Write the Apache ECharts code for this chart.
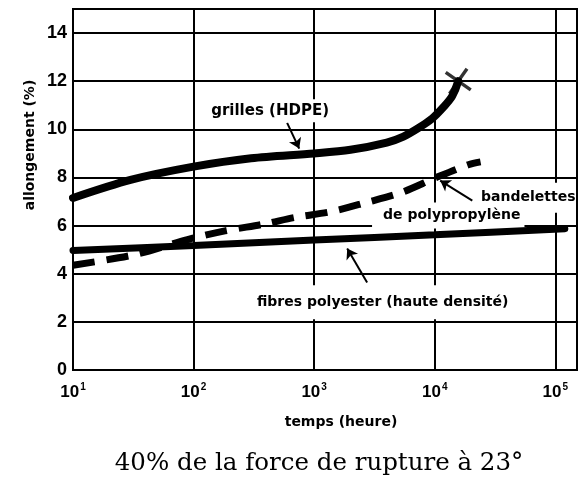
<!DOCTYPE html>
<html>
<head>
<meta charset="utf-8">
<script src="https://cdn.jsdelivr.net/npm/echarts@6/dist/echarts.min.js"></script>
<style>
  html, body { margin: 0; padding: 0; background: #fff; }
  #chart { width: 580px; height: 481px; }
</style>
</head>
<body>
<div id="chart"></div>
<script>
// Allongement en fluage selon le temps (échelle logarithmique), 40 % de la force de rupture à 23°

// Graduations : exposants des puissances de 10 (heures) et allongement (%)
const decadeExponents = [1, 2, 3, 4, 5];
const elongationTicks = [0, 2, 4, 6, 8, 10, 12, 14];

// grilles (HDPE)
const grillesHours = [10, 30, 100, 300, 1000, 2000, 4000, 5500, 7300, 9530, 11800, 13960, 15670];
const grillesElong = [7.15, 7.9, 8.45, 8.8, 9.0, 9.15, 9.45, 9.7, 10.05, 10.45, 10.92, 11.38, 12.0];

// bandelettes de polypropylène
const bandesHours = [10, 33, 89, 182, 390, 690, 1380, 2700, 5250, 10200, 19000, 24000];
const bandesElong = [4.35, 4.8, 5.42, 5.78, 6.07, 6.34, 6.58, 6.96, 7.37, 7.99, 8.53, 8.65];

// fibres polyester (haute densité)
const fibresHours = [10, 100, 1000, 10000, 120000];
const fibresElong = [4.97, 5.17, 5.4, 5.62, 5.87];

// rupture des grilles
const ruptureHours = [15670];
const ruptureElong = [12.0];

const lg = Math.log10;
const toPoints = (hours, values) => hours.map((h, i) => [lg(h), values[i]]);
const at = (hours, value) => [lg(hours), value];

const SANS = 'DejaVu Sans';
const NUM = 'Liberation Sans';
const INK = '#000';

const labelStyle = (pad) => ({
  show: true,
  position: 'inside',
  color: INK,
  fontFamily: SANS,
  fontWeight: 'bold',
  fontSize: 14,
  backgroundColor: '#fff',
  padding: pad
});

const CROSS = 'path://M2,0 L10,8 L18,0 L20,2 L12,10 L20,18 L18,20 L10,12 L2,20 L0,18 L8,10 L0,2 Z';

const chart = echarts.init(document.getElementById('chart'), null, { renderer: 'canvas' });

chart.setOption({
  animation: false,
  backgroundColor: '#fff',
  grid: {
    left: 73, right: 3, top: 9, bottom: 111,
    show: true, borderColor: INK, borderWidth: 2, backgroundColor: 'transparent'
  },
  xAxis: {
    type: 'value',
    min: decadeExponents[0],
    max: 5.18,
    interval: 1,
    axisLine: { show: true, onZero: false, lineStyle: { color: INK, width: 2 } },
    axisTick: { show: false },
    splitLine: { show: true, lineStyle: { color: INK, width: 2 } },
    axisLabel: {
      margin: 12,
      formatter: (v) => decadeExponents.includes(v) ? '{b|10}{s|' + v + '}' : '',
      rich: {
        b: { fontFamily: NUM, fontWeight: 'bold', fontSize: 17, color: INK, lineHeight: 20 },
        s: { fontFamily: NUM, fontWeight: 'bold', fontSize: 10, color: INK, verticalAlign: 'top', lineHeight: 20, padding: [0, 0, 0, 1] }
      }
    }
  },
  yAxis: {
    type: 'value',
    min: elongationTicks[0],
    max: 15,
    interval: 2,
    axisLine: { show: true, lineStyle: { color: INK, width: 2 } },
    axisTick: { show: false },
    splitLine: { show: true, lineStyle: { color: INK, width: 2 } },
    axisLabel: {
      margin: 6,
      color: INK,
      fontFamily: NUM,
      fontWeight: 'bold',
      fontSize: 18,
      formatter: (v) => elongationTicks.includes(v) ? String(v) : ''
    }
  },
  graphic: [
    {
      type: 'text', x: 30, y: 145, rotation: Math.PI / 2,
      style: { text: 'allongement (%)', fill: INK, font: 'bold 14px "DejaVu Sans"', align: 'center', verticalAlign: 'middle' }
    },
    {
      type: 'text', x: 341, y: 422,
      style: { text: 'temps (heure)', fill: INK, font: 'bold 14px "DejaVu Sans"', align: 'center', verticalAlign: 'middle' }
    },
    {
      type: 'text', x: 319, y: 464,
      style: { text: '40% de la force de rupture à 23°', fill: INK, font: '24.5px "DejaVu Serif"', align: 'center', verticalAlign: 'middle' }
    }
  ],
  series: [
    {
      // annotations : étiquettes sur fond blanc et flèches
      name: 'annotations',
      type: 'scatter',
      data: [],
      z: 2,
      silent: true,
      markPoint: {
        symbol: 'rect',
        symbolSize: 1,
        itemStyle: { color: 'rgba(0,0,0,0)' },
        silent: true,
        data: [
          { coord: at(431, 10.77), label: Object.assign(labelStyle([5, 4, 3, 4]), { formatter: 'grilles (HDPE)', fontSize: 15 }) },
          { coord: at(58600, 7.16), label: Object.assign(labelStyle([14, 0, 2, 2]), { formatter: 'bandelettes' }) },
          { coord: at(12950, 6.42), label: Object.assign(labelStyle([4, 4, 8, 11]), { formatter: 'de polypropylène' }) },
          { coord: at(3700, 2.82), label: Object.assign(labelStyle([10, 6, 10, 6]), { formatter: 'fibres polyester (haute densité)' }) }
        ]
      },
      markLine: {
        silent: true,
        symbol: ['none', 'arrow'],
        symbolSize: 10,
        label: { show: false },
        lineStyle: { color: INK, width: 2, type: 'solid' },
        emphasis: { disabled: true },
        data: [
          [{ coord: at(597, 10.27) }, { coord: at(752, 9.2) }],
          [{ coord: at(20500, 7.04) }, { coord: at(11100, 7.87) }],
          [{ coord: at(2750, 3.64) }, { coord: at(1880, 5.05) }]
        ]
      }
    },
    {
      name: 'fibres polyester (haute densité)',
      type: 'line',
      data: toPoints(fibresHours, fibresElong),
      showSymbol: false,
      smooth: 0.3,
      z: 5,
      silent: true,
      lineStyle: { color: INK, width: 7, cap: 'round' }
    },
    {
      name: 'bandelettes de polypropylène',
      type: 'line',
      data: toPoints(bandesHours, bandesElong),
      showSymbol: false,
      smooth: 0.3,
      z: 5,
      silent: true,
      lineStyle: { color: INK, width: 7, type: [22, 12], cap: 'butt' }
    },
    {
      name: 'grilles (HDPE)',
      type: 'line',
      data: toPoints(grillesHours, grillesElong),
      showSymbol: false,
      smooth: 0.3,
      z: 6,
      silent: true,
      lineStyle: { color: INK, width: 8, cap: 'round' }
    },
    {
      name: 'rupture',
      type: 'scatter',
      data: toPoints(ruptureHours, ruptureElong),
      symbol: CROSS,
      symbolSize: 24,
      symbolRotate: 10,
      z: 7,
      silent: true,
      itemStyle: { color: INK }
    }
  ]
});
</script>
</body>
</html>
